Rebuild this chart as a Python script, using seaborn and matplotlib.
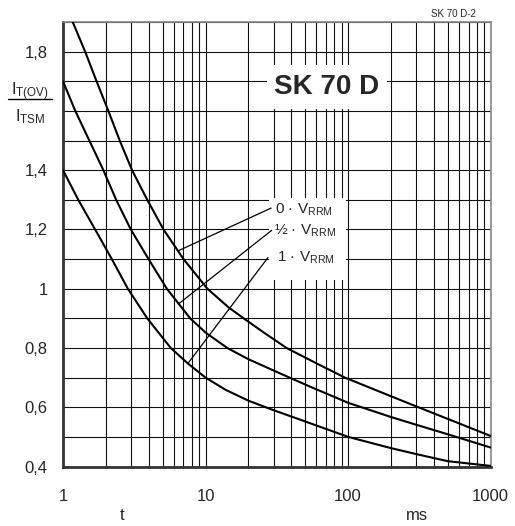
import numpy as np
import pandas as pd
import matplotlib
matplotlib.use('Agg')
import matplotlib.pyplot as plt
from matplotlib.patches import Rectangle
from matplotlib.lines import Line2D
from matplotlib.ticker import LogLocator, NullFormatter, FixedLocator, MultipleLocator
import seaborn as sns

# curves: t in ms, I_T(OV)/I_TSM
t_0 = [1.17, 1.43, 1.72, 2.08, 2.5, 3.05, 3.9, 5.07, 7.0, 10.3, 14.5, 18.5, 26, 37, 60, 95, 200, 300, 1000]
v_0 = [1.9, 1.8, 1.7, 1.6, 1.5, 1.4, 1.3, 1.2, 1.1, 1.0, 0.937, 0.9, 0.85, 0.8, 0.748, 0.7, 0.637, 0.603, 0.503]

t_half = [1, 1.22, 1.53, 1.92, 2.36, 2.99, 3.98, 5.35, 7.8, 10, 14.2, 20, 33, 55, 100, 200, 300, 490, 1000]
v_half = [1.7, 1.6, 1.5, 1.4, 1.3, 1.2, 1.1, 1.0, 0.9, 0.852, 0.8, 0.762, 0.715, 0.668, 0.615, 0.567, 0.541, 0.51, 0.464]

t_1 = [1, 1.28, 1.68, 2.2, 2.85, 3.9, 5.7, 7.5, 10, 13.8, 20, 30, 50, 100, 200, 300, 500, 1000]
v_1 = [1.4, 1.3, 1.2, 1.1, 1.0, 0.9, 0.8, 0.748, 0.7, 0.659, 0.622, 0.59, 0.552, 0.5, 0.462, 0.442, 0.418, 0.402]

curve_names = ['0 · $\\mathrm{V}_{\\mathrm{RRM}}$',
               '½ · $\\mathrm{V}_{\\mathrm{RRM}}$',
               '1 · $\\mathrm{V}_{\\mathrm{RRM}}$']

# leader lines: label end -> point on curve
leader_from = [(28.8, 1.272), (29.1, 1.197), (27.4, 1.105)]
leader_to = [(6.44, 1.128), (6.44, 0.948), (7.53, 0.748)]
label_pos = [(30.7, 1.252), (30.2, 1.181), (31.5, 1.091)]

y_ticks = [0.4, 0.6, 0.8, 1.0, 1.2, 1.4, 1.8]
y_ticklabels = ['0,4', '0,6', '0,8', '1', '1,2', '1,4', '1,8']
x_ticks = [1, 10, 100, 1000]
x_ticklabels = ['1', '10', '100', '1000']

sns.set_theme(style='white')
plt.rcParams['font.family'] = ['Liberation Sans', 'DejaVu Sans']
plt.rcParams['mathtext.fontset'] = 'custom'
plt.rcParams['mathtext.rm'] = 'Liberation Sans'
plt.rcParams['mathtext.it'] = 'Liberation Sans:italic'
plt.rcParams['mathtext.bf'] = 'Liberation Sans:bold'

fig = plt.figure(figsize=(5.15, 5.26), dpi=100)
ax = fig.add_axes([0.1223, 0.1131, 0.8305, 0.8451])

for tt, vv in [(t_0, v_0), (t_half, v_half), (t_1, v_1)]:
    df = pd.DataFrame({'t': tt, 'v': vv})
    sns.lineplot(data=df, x='t', y='v', ax=ax, color='black', lw=1.5,
                 estimator=None, zorder=3)

ax.set_xscale('log')
ax.set_xlim(1, 1000)
ax.set_ylim(0.4, 1.9)

ax.xaxis.set_major_locator(FixedLocator(x_ticks))
ax.set_xticklabels(x_ticklabels)
ax.xaxis.set_minor_locator(LogLocator(base=10, subs=range(2, 10)))
ax.xaxis.set_minor_formatter(NullFormatter())
ax.set_yticks(y_ticks)
ax.set_yticklabels(y_ticklabels)
ax.yaxis.set_minor_locator(MultipleLocator(0.1))

ax.grid(True, which='both', color='#111111', lw=0.8)
ax.set_axisbelow(True)
ax.tick_params(which='both', length=0)
ax.tick_params(axis='x', pad=16, labelsize=12)
ax.tick_params(axis='y', pad=11, labelsize=12)
ax.set_xlabel('')
ax.set_ylabel('')

for side in ['left', 'bottom']:
    ax.spines[side].set_linewidth(2)
    ax.spines[side].set_color('#333333')
for side in ['top', 'right']:
    ax.spines[side].set_linewidth(1.2)
    ax.spines[side].set_color('#888888')

# white boxes hiding the grid behind the labels
ax.add_patch(Rectangle((27.8, 1.03), 96.8 - 27.8, 1.306 - 1.03,
                       facecolor='white', edgecolor='none', zorder=1))
ax.add_patch(Rectangle((27, 1.605), 188 - 27, 1.756 - 1.605,
                       facecolor='white', edgecolor='none', zorder=1))
ax.text(71, 1.679, 'SK 70 D', fontsize=20, fontweight='bold',
        ha='center', va='center', zorder=4)

for (x0, y0), (x1, y1), (xt, yt), name in zip(leader_from, leader_to, label_pos, curve_names):
    ax.plot([x0, x1], [y0, y1], color='black', lw=0.9, zorder=3)
    ax.text(xt, yt, name, fontsize=11, ha='left', va='baseline', zorder=4)

# fraction as y label
fig.text(30 / 515, 1 - 95 / 526, '$\\mathrm{I}_{\\mathrm{T(OV)}}$', fontsize=12,
         ha='center', va='baseline')
fig.add_artist(Line2D([8 / 515, 52 / 515], [1 - 98.5 / 526, 1 - 98.5 / 526],
                      color='black', lw=1))
fig.text(30 / 515, 1 - 121 / 526, '$\\mathrm{I}_{\\mathrm{TSM}}$', fontsize=12,
         ha='center', va='baseline')

fig.text(122 / 515, 1 - 516 / 526, 't', fontsize=12, ha='center', va='center')
fig.text(417 / 515, 1 - 516 / 526, 'ms', fontsize=12, ha='center', va='center')
fig.text(453 / 515, 1 - 14 / 526, 'SK 70 D-2', fontsize=7, ha='center', va='center')

fig.savefig('out.png', dpi=100)
